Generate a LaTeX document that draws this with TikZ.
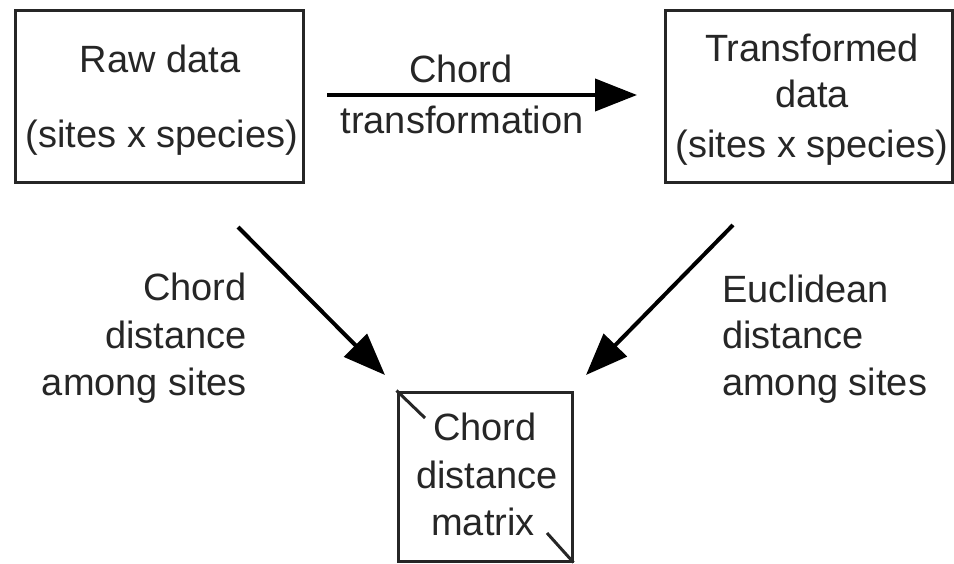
\documentclass[tikz,border=0pt]{standalone}
\usepackage{fontspec}
\setmainfont{Liberation Sans}
\usetikzlibrary{arrows.meta}
\begin{document}
\begin{tikzpicture}[x=1pt,y=-1pt,
  box/.style={draw=black!85, line width=3pt, minimum width=#1, inner sep=0pt},
  txt/.style={font=\fontsize{38}{47}\selectfont, text=black!85, inner sep=0pt, anchor=base},
  conn/.style={line width=4pt, -{Triangle[length=42pt,width=32pt]}},
  corner/.style={line width=3pt, draw=black!85}]
\useasboundingbox (0,0) rectangle (954,563);
% boxes
\node[box=288pt, minimum height=172pt] (raw) at (159,96) {};
\node[box=287pt, minimum height=172pt] (trans) at (809,96) {};
\node[box=174pt, minimum height=169pt] (mat) at (485,476.5) {};
% box texts
\node[txt] (raw1) at (160,72) {Raw data};
\node[txt] (raw2) at (162,147) {(sites x species)};
\node[txt] (tr1) at (812,61) {Transformed};
\node[txt] (tr2) at (812,107) {data};
\node[txt] (tr3) at (812,157) {(sites x species)};
\node[txt] (m1) at (485,440) {Chord};
\node[txt] (m2) at (487,488) {distance};
\node[txt] (m3) at (483,535) {matrix};
% corner marks
\coordinate (c1) at (425,418);
\coordinate (c2) at (547,533);
\draw[corner] (mat.north west) -- (c1);
\draw[corner] (c2) -- (mat.south east);
% arrows
\coordinate (h1) at (327,95);
\coordinate (h2) at (637,95);
\coordinate (l1) at (238,227);
\coordinate (l2) at (385,375);
\coordinate (r1) at (733,225);
\coordinate (r2) at (586,375);
\draw[conn] (h1) -- (h2);
\draw[conn] (l1) -- (l2);
\draw[conn] (r1) -- (r2);
% arrow labels
\node[txt] (t1) at (461,82) {Chord};
\node[txt] (t2) at (462,133) {transformation};
\node[txt, anchor=base east] (lc1) at (247,300) {Chord};
\node[txt, anchor=base east] (lc2) at (247,348) {distance};
\node[txt, anchor=base east] (lc3) at (247,395) {among sites};
\node[txt, anchor=base west] (rc1) at (722,302) {Euclidean};
\node[txt, anchor=base west] (rc2) at (722,348) {distance};
\node[txt, anchor=base west] (rc3) at (722,395) {among sites};
\end{tikzpicture}
\end{document}
